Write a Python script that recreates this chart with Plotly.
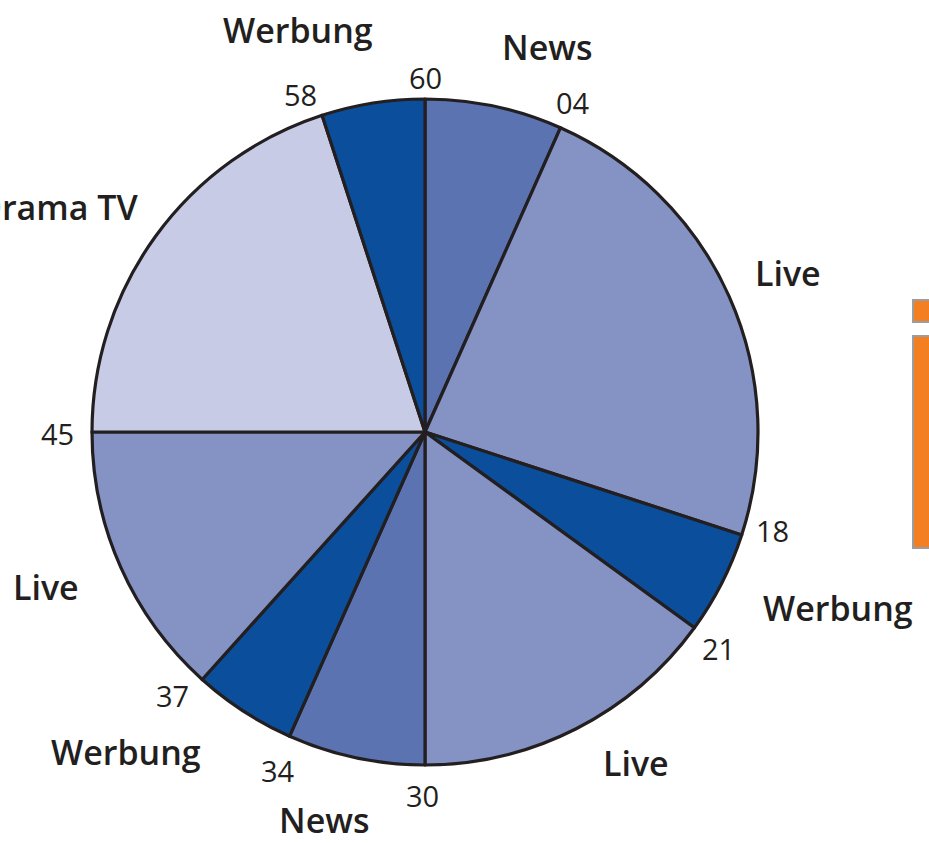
import plotly.graph_objects as go

# ---- data ----
segments = ["News", "Live", "Werbung", "Live", "News", "Werbung", "Live", "Drama TV", "Werbung"]
minutes = [4, 14, 3, 9, 4, 3, 8, 12, 3]
tick_labels = ["04", "18", "21", "30", "34", "37", "45", "58", "60"]

# ---- style ----
W, H = 929, 843
colors = {"News": "#5b73b1", "Live": "#8592c4", "Werbung": "#0b4f9c", "Drama TV": "#c7cbe5"}
cx, cy, R = 425, 432, 333  # pixel centre / radius of pie

# label placements (pixel positions of text centres)
seg_label_pos = [(547, 47), (788, 273), (838, 608), (636, 763), (324, 820),
                 (126, 752), (46, 587), (58, 207), (298, 30)]
tick_label_pos = [(573, 103), (772, 530), (718, 648), (422, 795), (278, 770),
                  (172, 695), (57, 433), (300, 95), (425, 77)]


def px(x, y):
    return x / W, 1 - y / H


fig = go.Figure()
fig.add_trace(go.Pie(
    labels=[f"{s}{i}" for i, s in enumerate(segments)],
    values=minutes,
    sort=False,
    direction="clockwise",
    rotation=0,
    marker=dict(colors=[colors[s] for s in segments], line=dict(color="#231f20", width=3.2)),
    textinfo="none",
    hoverinfo="skip",
    showlegend=False,
    domain=dict(x=[(cx - R) / W, (cx + R) / W], y=[(H - cy - R) / H, (H - cy + R) / H]),
))

anns = []
for s, (x, y) in zip(segments, seg_label_pos):
    ax, ay = px(x, y)
    anns.append(dict(x=ax, y=ay, xref="paper", yref="paper", text=s, showarrow=False,
                     xanchor="center", yanchor="middle",
                     font=dict(family="Open Sans", size=34, color="#231f20", weight=600)))
for t, (x, y) in zip(tick_labels, tick_label_pos):
    ax, ay = px(x, y)
    anns.append(dict(x=ax, y=ay, xref="paper", yref="paper", text=t, showarrow=False,
                     xanchor="center", yanchor="middle",
                     font=dict(family="Open Sans", size=29, color="#231f20")))

shapes = []
for y0, y1 in [(300, 322), (336, 548)]:
    x0p, y1p = px(913, y0)
    x1p, y0p = px(935, y1)
    shapes.append(dict(type="rect", xref="paper", yref="paper",
                       x0=x0p, x1=x1p, y0=y0p, y1=y1p,
                       fillcolor="#f47f21", line=dict(color="#9a9ea3", width=2)))

fig.update_layout(
    width=W, height=H, autosize=False,
    margin=dict(l=0, r=0, t=0, b=0),
    paper_bgcolor="white", plot_bgcolor="white",
    annotations=anns, shapes=shapes,
)
fig.write_html("out.html",
               config={"displayModeBar": False},
               post_script="document.body.style.margin='0px';document.body.style.overflow='hidden';")
